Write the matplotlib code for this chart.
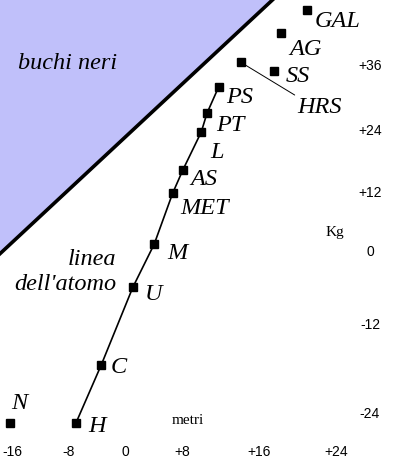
import numpy as np
import matplotlib
matplotlib.use('Agg')
import matplotlib.pyplot as plt

# Данные (log10 метров, log10 кг)
nomi = ['N', 'H', 'C', 'U', 'M', 'MET', 'AS', 'L', 'PT', 'PS', 'HRS', 'SS', 'AG', 'GAL']
metri = [-16.3, -7.0, -3.4, 1.1, 4.1, 6.7, 8.1, 10.0, 10.6, 11.8, 14.1, 17.6, 18.3, 21.0]
kg = [-25.2, -25.2, -17.4, -5.8, 1.6, 12.0, 16.5, 23.8, 27.3, 32.1, 36.7, 35.1, 42.1, 46.3]
linea_atomo = ['H', 'C', 'U', 'M', 'MET', 'AS', 'L', 'PT', 'PS']

# граница области чёрных дыр
buchi_metri = [-17.7, 17.4]
buchi_kg = [-0.3, 48.2]

x_ticks = [-16, -8, 0, 8, 16, 24]
x_tick_labels = ['-16', '-8', '0', '+8', '+16', '+24']
y_ticks = [36, 24, 12, 0, -12, -24]
y_tick_labels = ['+36', '+24', '+12', '0', '-12', '-24']

# Шкалы на рисунке нарисованы от руки и неравномерны
x_knots_px = [12, 69, 125, 182, 259, 336]
y_knots_px = [461 - 66, 461 - 131, 461 - 193, 461 - 252, 461 - 325, 461 - 414]


def make_scale(vals, px):
    vals = np.array(vals, dtype=float)
    px = np.array(px, dtype=float)
    order = np.argsort(vals)
    vals, px = vals[order], px[order]
    k0 = (px[1] - px[0]) / (vals[1] - vals[0])
    k1 = (px[-1] - px[-2]) / (vals[-1] - vals[-2])
    vals = np.concatenate([[vals[0] - 1000], vals, [vals[-1] + 1000]])
    px = np.concatenate([[px[0] - 1000 * k0], px, [px[-1] + 1000 * k1]])

    def fwd(v):
        return np.interp(v, vals, px)

    def inv(p):
        return np.interp(p, px, vals)

    return fwd, inv


fx, fx_inv = make_scale(x_ticks, x_knots_px)
fy, fy_inv = make_scale(y_ticks, y_knots_px)

fig = plt.figure(figsize=(3.93, 4.61), dpi=100)
ax = fig.add_axes([0, 0, 1, 1])
ax.set_xscale('function', functions=(fx, fx_inv))
ax.set_yscale('function', functions=(fy, fy_inv))
ax.set_xlim(fx_inv(0), fx_inv(393))
ax.set_ylim(fy_inv(0), fy_inv(461))
ax.axis('off')

serif = 'Liberation Serif'
blu = '#c0c0fa'
fs = 17.5

# Чёрные дыры
xmin, xmax = ax.get_xlim()
ymin, ymax = ax.get_ylim()
ax.fill([buchi_metri[0], buchi_metri[1], xmin - 5], [buchi_kg[0], buchi_kg[1], ymax + 5],
        color=blu, lw=0, zorder=1)
ax.plot(buchi_metri, buchi_kg, color='black', lw=2.6, solid_capstyle='projecting', zorder=2)
ax.text(0.173, 0.863, 'buchi neri', transform=ax.transAxes, ha='center', va='center',
        family=serif, style='italic', fontsize=fs)

# Линия атома
idx = [nomi.index(n) for n in linea_atomo]
ax.plot([metri[i] for i in idx], [kg[i] for i in idx], color='black', lw=1.2, zorder=3)
ax.plot(metri, kg, 's', color='black', markersize=5.3, zorder=4)
ax.text(116 / 393, 1 - 272 / 461, "linea\ndell'atomo", transform=ax.transAxes,
        ha='right', va='center', multialignment='right', linespacing=1.2,
        family=serif, style='italic', fontsize=fs)

# подписи точек (смещение в пикселях)
offset = {'N': (9, 19), 'H': (21, -4), 'C': (18, -2), 'U': (21, -7), 'M': (23, -9),
          'MET': (32, -15), 'AS': (21, -10), 'L': (16, -20), 'PT': (23, -12),
          'PS': (21, -10), 'SS': (23, -6), 'AG': (24, -17), 'GAL': (30, -11)}
for n, x, y in zip(nomi, metri, kg):
    if n == 'HRS':
        ax.annotate(n, (x, y), xytext=(79, -45), textcoords='offset pixels',
                    ha='center', va='center', family=serif, style='italic', fontsize=fs,
                    arrowprops=dict(arrowstyle='-', color='black', lw=0.7,
                                    shrinkA=0, shrinkB=0, relpos=(0, 1)))
        continue
    ax.annotate(n, (x, y), xytext=offset[n], textcoords='offset pixels',
                ha='center', va='center', family=serif, style='italic', fontsize=fs)

# Подписи осей
for t, lab in zip(x_ticks, x_tick_labels):
    ax.text(t, 1 - 452 / 461, lab, transform=ax.get_xaxis_transform(),
            ha='center', va='center', family='Liberation Sans', fontsize=10)
for t, lab in zip(y_ticks, y_tick_labels):
    ax.text(370 / 393, t, lab, transform=ax.get_yaxis_transform(),
            ha='center', va='center', family='Liberation Sans', fontsize=10)
ax.text(188 / 393, 1 - 420 / 461, 'metri', transform=ax.transAxes,
        ha='center', va='center', family=serif, fontsize=11)
ax.text(335 / 393, 1 - 232 / 461, 'Kg', transform=ax.transAxes,
        ha='center', va='center', family=serif, fontsize=11)

fig.savefig('out.png', dpi=100)
